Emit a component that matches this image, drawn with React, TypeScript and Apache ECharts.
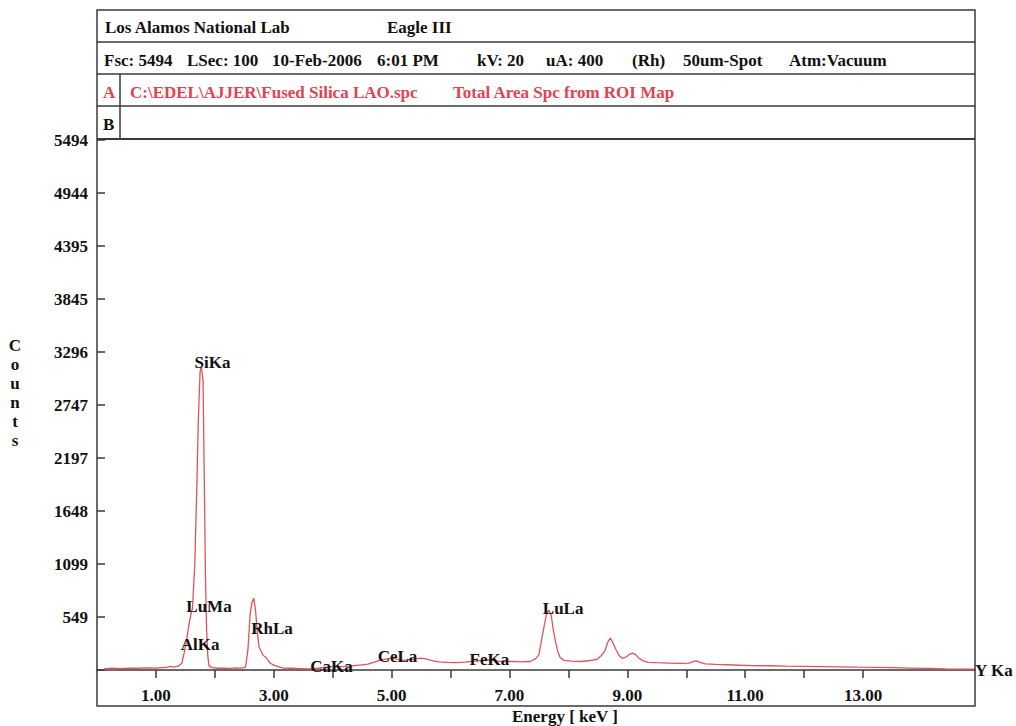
import { useEffect, useRef } from "react";
import * as echarts from "echarts";

// ---- Data ----
const energyKeV = [
  0.12, 0.25, 0.4, 0.55, 0.7, 0.85, 1.0, 1.1, 1.18, 1.24, 1.3, 1.38, 1.44, 1.48, 1.52, 1.56, 1.59, 1.62,
  1.66, 1.69, 1.72, 1.75, 1.77, 1.8, 1.82, 1.84, 1.86, 1.88, 1.9, 1.95, 2.05, 2.15, 2.25, 2.35, 2.45,
  2.52, 2.56, 2.6, 2.63, 2.66, 2.69, 2.72, 2.75, 2.78, 2.82, 2.85, 2.89, 2.94, 3.0, 3.08, 3.16, 3.3,
  3.45, 3.6, 3.75, 3.9, 4.0, 4.15, 4.3, 4.45, 4.6, 4.72, 4.82, 4.92, 5.0, 5.1, 5.2, 5.3, 5.4, 5.5,
  5.6, 5.7, 5.8, 5.95, 6.1, 6.25, 6.4, 6.55, 6.65, 6.75, 6.9, 7.05, 7.2, 7.35, 7.45, 7.5, 7.55, 7.59,
  7.63, 7.67, 7.71, 7.74, 7.78, 7.82, 7.86, 7.92, 8.05, 8.2, 8.35, 8.48, 8.56, 8.62, 8.67, 8.71, 8.75,
  8.8, 8.86, 8.92, 8.98, 9.04, 9.09, 9.14, 9.2, 9.27, 9.35, 9.5, 9.7, 9.9, 10.05, 10.12, 10.17, 10.23,
  10.32, 10.5, 10.8, 11.1, 11.4, 11.7, 12.0, 12.3, 12.6, 12.9, 13.2, 13.5, 13.8, 14.1, 14.4, 14.7, 14.88,
];
const countsValues = [
  12, 18, 15, 20, 18, 22, 20, 25, 28, 38, 30, 40, 70, 180, 310, 470, 570, 640,
  1100, 1800, 2600, 3100, 3140, 3000, 2000, 1000, 420, 150, 45, 25, 18, 20, 16, 22, 20,
  30, 200, 590, 700, 745, 620, 400, 240, 200, 150, 140, 110, 70, 50, 35, 20, 18,
  15, 12, 18, 30, 34, 36, 40, 50, 60, 85, 104, 115, 122, 110, 100, 108, 115, 122,
  112, 95, 85, 80, 76, 82, 92, 100, 106, 95, 86, 90, 84, 88, 120, 160, 330, 460,
  585, 620, 560, 430, 300, 190, 130, 100, 92, 88, 96, 110, 150, 200, 290, 330, 290,
  220, 150, 120, 135, 165, 175, 160, 120, 95, 80, 76, 72, 68, 72, 90, 95, 80,
  64, 58, 52, 45, 44, 40, 38, 36, 33, 30, 28, 24, 20, 16, 12, 9, 8,
];

const peakNames = ["SiKa", "LuMa", "AlKa", "RhLa", "CaKa", "CeLa", "FeKa", "LuLa", "Y Ka"];
const peakLabelEnergy = [1.96, 1.9, 1.75, 2.97, 3.98, 5.1, 6.66, 7.91, 15.22];
const peakLabelCounts = [3190, 660, 260, 435, 32, 140, 110, 640, -5];

const yTickLabels = ["549", "1099", "1648", "2197", "2747", "3296", "3845", "4395", "4944", "5494"];
const xTickValues = [1, 2, 3, 4, 5, 6, 7, 8, 9, 10, 11, 12, 13];
const xLabelValues = [1, 3, 5, 7, 9, 11, 13];
const yFullScale = 5494;
const yStep = 549.4;
const xMax = 14.9;

const headerRow1 = [
  { text: "Los Alamos National Lab", x: 105 },
  { text: "Eagle III", x: 387 },
];
const headerRow2 = [
  { text: "Fsc: 5494", x: 104 },
  { text: "LSec: 100", x: 187 },
  { text: "10-Feb-2006", x: 272 },
  { text: "6:01 PM", x: 377 },
  { text: "kV: 20", x: 477 },
  { text: "uA: 400", x: 546 },
  { text: "(Rh)", x: 632 },
  { text: "50um-Spot", x: 683 },
  { text: "Atm:Vacuum", x: 789 },
];
const headerRow3 = [
  { text: "C:\\EDEL\\AJJER\\Fused Silica LAO.spc", x: 130 },
  { text: "Total Area Spc from ROI Map", x: 453 },
];
const countsLetters = ["C", "o", "u", "n", "t", "s"];

const FONT = '"Liberation Serif", "Times New Roman", serif';
const RED = "#e2434f";
const LINE_RED = "#e3525c";
const INK = "#111111";
const BORDER = "#3a3a3a";

function txt(text: string, x: number, y: number, fill = INK, align = "left") {
  return {
    type: "text",
    x,
    y,
    silent: true,
    style: {
      text,
      fill,
      fontFamily: FONT,
      fontWeight: "bold",
      fontSize: 17,
      align,
      verticalAlign: "middle",
      textAlign: align,
      textVerticalAlign: "middle",
    },
  };
}

function hline(x1: number, x2: number, y: number, w = 1.5) {
  return { type: "line", silent: true, shape: { x1, y1: y, x2, y2: y }, style: { stroke: BORDER, lineWidth: w } };
}
function vline(x: number, y1: number, y2: number, w = 1.5) {
  return { type: "line", silent: true, shape: { x1: x, y1, x2: x, y2 }, style: { stroke: BORDER, lineWidth: w } };
}

export default function App() {
  const ref = useRef<HTMLDivElement>(null);

  useEffect(() => {
    if (!ref.current) return;
    const chart = echarts.init(ref.current, undefined, { renderer: "svg" });

    const L = 97;
    const R = 975;
    const graphics: any[] = [
      { type: "rect", silent: true, shape: { x: L, y: 10, width: R - L, height: 696 }, style: { fill: "none", stroke: BORDER, lineWidth: 1.5 } },
      hline(L, R, 42),
      hline(L, R, 74),
      hline(L, R, 106),
      hline(L, R, 139, 2),
      vline(120, 74, 139),
      ...headerRow1.map((h) => txt(h.text, h.x, 27)),
      ...headerRow2.map((h) => txt(h.text, h.x, 60)),
      txt("A", 103, 92, RED),
      ...headerRow3.map((h) => txt(h.text, h.x, 92, RED)),
      txt("B", 103, 124),
      ...countsLetters.map((c, i) => txt(c, 15, 345 + i * 19, INK, "center")),
      txt("Energy [ keV ]", 565, 716, INK, "center"),
    ];

    const isLabelled = (v: number) => xLabelValues.some((t) => Math.abs(t - v) < 1e-6);

    chart.setOption({
      animation: false,
      backgroundColor: "#ffffff",
      grid: { left: L, right: 1016 - R, top: 140, bottom: 726 - 670, containLabel: false },
      xAxis: {
        type: "value",
        min: 0,
        max: xMax,
        interval: 1,
        offset: 5,
        axisLine: { show: true, lineStyle: { color: BORDER, width: 1.5 } },
        axisTick: { show: true, inside: false, length: 8, customValues: xTickValues, lineStyle: { color: BORDER, width: 1.5 } },
        axisLabel: {
          show: true,
          margin: 12,
          showMaxLabel: false,
          showMinLabel: false,
          fontFamily: FONT,
          fontWeight: "bold",
          fontSize: 17,
          color: INK,
          formatter: (v: number) => (isLabelled(v) ? v.toFixed(2) : ""),
        },
        splitLine: { show: false },
      },
      yAxis: {
        type: "value",
        min: 0,
        max: yFullScale,
        interval: yStep,
        axisLine: { show: false },
        axisTick: { show: true, inside: true, length: 8, lineStyle: { color: BORDER, width: 1.5 } },
        axisLabel: {
          show: true,
          margin: 9,
          fontFamily: FONT,
          fontWeight: "bold",
          fontSize: 17,
          color: INK,
          formatter: (v: number) => {
            const i = Math.round(v / yStep);
            return i === 0 ? "" : yTickLabels[i - 1] ?? "";
          },
        },
        splitLine: { show: false },
      },
      series: [
        {
          type: "line",
          data: energyKeV.map((e, i) => [e, countsValues[i]]),
          showSymbol: false,
          symbol: "none",
          smooth: false,
          lineStyle: { color: LINE_RED, width: 1.3 },
          z: 2,
        },
        {
          type: "scatter",
          clip: false,
          symbolSize: 0,
          itemStyle: { color: INK, opacity: 1 },
          emphasis: { disabled: true },
          data: peakNames.map((n, i) => ({ name: n, value: [peakLabelEnergy[i], peakLabelCounts[i]] })),
          label: {
            show: true,
            position: "inside",
            formatter: "{b}",
            fontFamily: FONT,
            fontWeight: "bold",
            fontSize: 17,
            color: INK,
            opacity: 1,
            textBorderWidth: 0,
          },
          z: 5,
        },
      ],
      graphic: graphics,
    });

    return () => chart.dispose();
  }, []);

  return (
    <div
      ref={ref}
      style={{ position: "fixed", left: 0, top: 0, width: 1016, height: 726, background: "#ffffff" }}
    />
  );
}
